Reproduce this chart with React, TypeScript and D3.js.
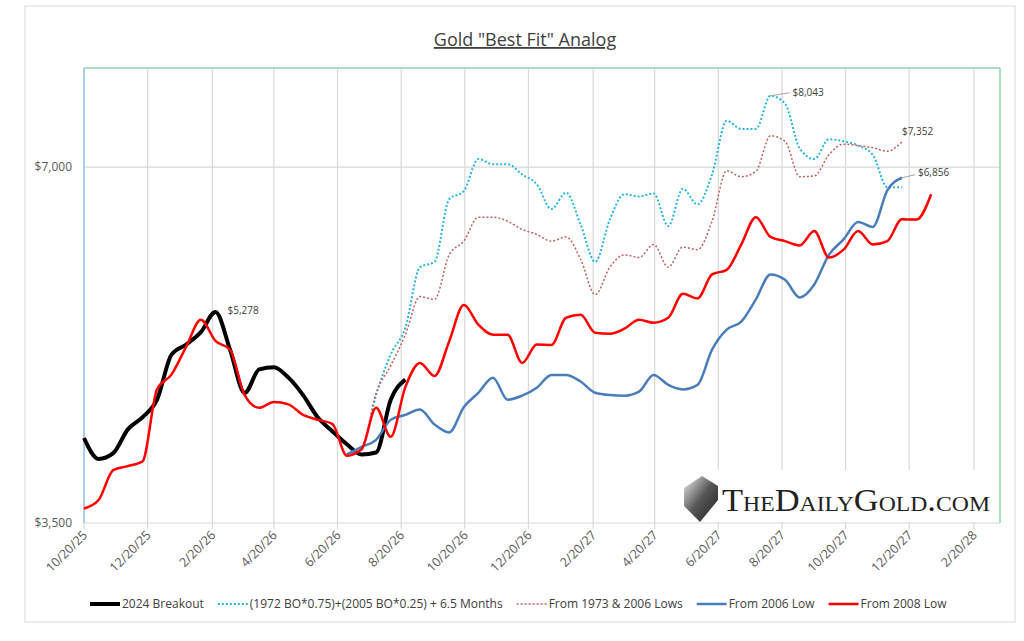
import { useRef, useEffect } from 'react';
import * as d3 from 'd3';

// samples every 14 days starting 10/20/25
const START = new Date(2025, 9, 20);
const STEP_DAYS = 14;

const breakout2024 = [4130, 3965, 4010, 4200, 4300, 4450, 4860, 4955, 5075, 5278, 4905, 4510, 4720, 4740, 4645, 4490, 4300, 4185, 4080, 4000, 4015, 4450, 4627];
const from2008 = [3600, 3660, 3880, 3910, 3945, 4540, 4675, 4935, 5200, 4990, 4905, 4490, 4380, 4430, 4410, 4320, 4280, 4245, 3990, 4040, 4380, 4140, 4560, 4780, 4660, 4985, 5350, 5150, 5050, 5050, 4780, 4955, 4950, 5220, 5250, 5070, 5060, 5110, 5200, 5170, 5220, 5470, 5420, 5680, 5730, 6020, 6350, 6110, 6060, 6010, 6180, 5870, 5960, 6180, 6020, 6060, 6323, 6320, 6640];
// these start at sample 18
const OFFSET = 18;
const from2006 = [4000, 4060, 4115, 4280, 4320, 4365, 4240, 4175, 4385, 4510, 4645, 4450, 4485, 4555, 4670, 4670, 4610, 4510, 4490, 4485, 4520, 4670, 4580, 4540, 4580, 4905, 5100, 5180, 5410, 5680, 5620, 5430, 5570, 5900, 6080, 6290, 6230, 6690, 6856];
const blend1972 = [4000, 4040, 4490, 4860, 5120, 5760, 5820, 6575, 6680, 7110, 7040, 7040, 6900, 6770, 6450, 6660, 6260, 5820, 6320, 6640, 6610, 6650, 6240, 6710, 6510, 6900, 7660, 7540, 7540, 8043, 7920, 7260, 7110, 7390, 7360, 7300, 7170, 6730, 6730];
const from1973 = [4000, 4040, 4510, 4755, 5050, 5440, 5410, 5900, 6060, 6350, 6350, 6300, 6200, 6140, 6060, 6110, 5850, 5460, 5760, 5900, 5870, 6020, 5760, 5990, 5960, 6300, 6950, 6870, 6940, 7440, 7360, 6870, 6880, 7170, 7320, 7300, 7270, 7220, 7352];

const TICK_LABELS = ['10/20/25', '12/20/25', '2/20/26', '4/20/26', '6/20/26', '8/20/26', '10/20/26', '12/20/26', '2/20/27', '4/20/27', '6/20/27', '8/20/27', '10/20/27', '12/20/27', '2/20/28'];
const Y_TICKS = [3500, 7000];

const series = [
  { name: '2024 Breakout', values: breakout2024, start: 0, color: '#000', width: 4, dash: '' },
  { name: '(1972 BO*0.75)+(2005 BO*0.25) + 6.5 Months', values: blend1972, start: OFFSET, color: '#2ab4ea', width: 2, dash: '2,2' },
  { name: 'From 1973 & 2006 Lows', values: from1973, start: OFFSET, color: '#c0625c', width: 1.5, dash: '2,2' },
  { name: 'From 2006 Low', values: from2006, start: OFFSET, color: '#4a7ebb', width: 2.5, dash: '' },
  { name: 'From 2008 Low', values: from2008, start: 0, color: '#ff0000', width: 2.5, dash: '' },
];

const labels = [
  { text: '$5,278', idx: 9, value: 5278, dx: 12, dy: 2, leader: false },
  { text: '$8,043', idx: OFFSET + 29, value: 8043, dx: 22, dy: 0, leader: true },
  { text: '$7,352', idx: OFFSET + 38, value: 7352, dx: 0, dy: -7, leader: false },
  { text: '$6,856', idx: OFFSET + 38, value: 6856, dx: 16, dy: -2, leader: true },
];

const parse = d3.timeParse('%m/%d/%y');
const dateAt = (i: number) => d3.timeDay.offset(START, i * STEP_DAYS);

export default function App() {
  const svgRef = useRef<SVGSVGElement>(null);

  useEffect(() => {
    if (!svgRef.current) return;
    const svg = d3.select(svgRef.current);
    svg.selectAll('*').remove();

    const width = 1024, height = 641;
    const m = { left: 84, right: 1000, top: 68, bottom: 523 };
    const font = 'Open Sans, Liberation Sans, sans-serif';

    svg.append('rect').attr('width', width).attr('height', height).attr('fill', '#fff');
    svg.append('rect').attr('x', 25).attr('y', 6).attr('width', 990).attr('height', 616)
      .attr('fill', '#fff').attr('stroke', '#d9d9d9');

    const x = d3.scaleTime().domain([START, parse('3/16/28')!]).range([m.left, m.right]);
    const y = d3.scaleLog().domain([3500, 8490]).range([m.bottom, m.top]);

    // grid
    TICK_LABELS.forEach((t) => {
      const px = x(parse(t)!);
      svg.append('line').attr('x1', px).attr('x2', px).attr('y1', m.top).attr('y2', m.bottom + 6)
        .attr('stroke', '#d9d9d9').attr('stroke-width', 1.2);
      svg.append('text')
        .attr('transform', `translate(${px + 4},${m.bottom + 13}) rotate(-45)`)
        .attr('text-anchor', 'end').attr('fill', '#595959')
        .style('font-family', font).style('font-size', '12.5px').text(t);
    });
    Y_TICKS.forEach((v) => {
      svg.append('line').attr('x1', m.left).attr('x2', m.right).attr('y1', y(v)).attr('y2', y(v))
        .attr('stroke', '#d9d9d9').attr('stroke-width', 1.2);
      svg.append('text').attr('x', m.left - 12).attr('y', y(v) + 4).attr('text-anchor', 'end')
        .attr('fill', '#595959').style('font-family', font).style('font-size', '12px')
        .text(d3.format('$,')(v));
    });
    // plot border
    svg.append('line').attr('x1', m.left).attr('x2', m.right).attr('y1', m.top).attr('y2', m.top).attr('stroke', '#8fd4aa').attr('stroke-width', 1.5);
    svg.append('line').attr('x1', m.right).attr('x2', m.right).attr('y1', m.top).attr('y2', m.bottom).attr('stroke', '#8fd4aa').attr('stroke-width', 1.5);
    svg.append('line').attr('x1', m.left).attr('x2', m.left).attr('y1', m.top).attr('y2', m.bottom).attr('stroke', '#9dc3e6').attr('stroke-width', 1.5);

    // logo
    const lg = svg.append('g');
    lg.append('rect').attr('x', 668).attr('y', 470).attr('width', 331).attr('height', 52).attr('fill', '#fff');
    const grad = svg.append('defs').append('linearGradient').attr('id', 'lgg').attr('x1', 0).attr('x2', 1).attr('y1', 0).attr('y2', 1);
    grad.append('stop').attr('offset', '0%').attr('stop-color', '#eee');
    grad.append('stop').attr('offset', '50%').attr('stop-color', '#555');
    grad.append('stop').attr('offset', '100%').attr('stop-color', '#222');
    lg.append('path').attr('d', 'M684,488 L702,476 L718,486 L718,500 L700,522 L684,506 Z').attr('fill', 'url(#lgg)');
    lg.append('text').attr('x', 722).attr('y', 511).attr('fill', '#222')
      .attr('textLength', 268).attr('lengthAdjust', 'spacingAndGlyphs')
      .style('font-family', 'Liberation Serif, DejaVu Serif, serif').style('font-size', '32px')
      .style('font-variant', 'small-caps').text('TheDailyGold.com');

    // lines
    series.forEach((s) => {
      const pts = s.values.map((v, i) => [x(dateAt(s.start + i)), y(v)] as [number, number]);
      svg.append('path').attr('d', d3.line().curve(d3.curveMonotoneX)(pts))
        .attr('fill', 'none').attr('stroke', s.color).attr('stroke-width', s.width)
        .attr('stroke-dasharray', s.dash || null).attr('stroke-linejoin', 'round');
    });

    // labels
    labels.forEach((l) => {
      const px = x(dateAt(l.idx)), py = y(l.value);
      if (l.leader) {
        svg.append('line').attr('x1', px).attr('x2', px + l.dx - 3).attr('y1', py).attr('y2', py - 3)
          .attr('stroke', '#a6a6a6');
      }
      svg.append('text').attr('x', px + l.dx).attr('y', py + l.dy).attr('fill', '#404040')
        .style('font-family', font).style('font-size', '10px').text(l.text);
    });

    // title
    svg.append('text').attr('x', 525).attr('y', 46).attr('text-anchor', 'middle').attr('fill', '#404040')
      .style('font-family', font).style('font-size', '18px').style('text-decoration', 'underline')
      .text('Gold "Best Fit" Analog');

    // legend
    let lx = 90;
    const ly = 604;
    series.forEach((s) => {
      svg.append('line').attr('x1', lx).attr('x2', lx + 30).attr('y1', ly).attr('y2', ly)
        .attr('stroke', s.color).attr('stroke-width', s.width).attr('stroke-dasharray', s.dash || null);
      const t = svg.append('text').attr('x', lx + 32).attr('y', ly + 4).attr('fill', '#404040')
        .style('font-family', font).style('font-size', '12px').text(s.name);
      lx += 32 + (t.node() as SVGTextElement).getComputedTextLength() + 14;
    });
  }, []);

  return <svg ref={svgRef} width={1024} height={641} style={{ display: 'block', position: 'absolute', left: 0, top: 0 }} />;
}
